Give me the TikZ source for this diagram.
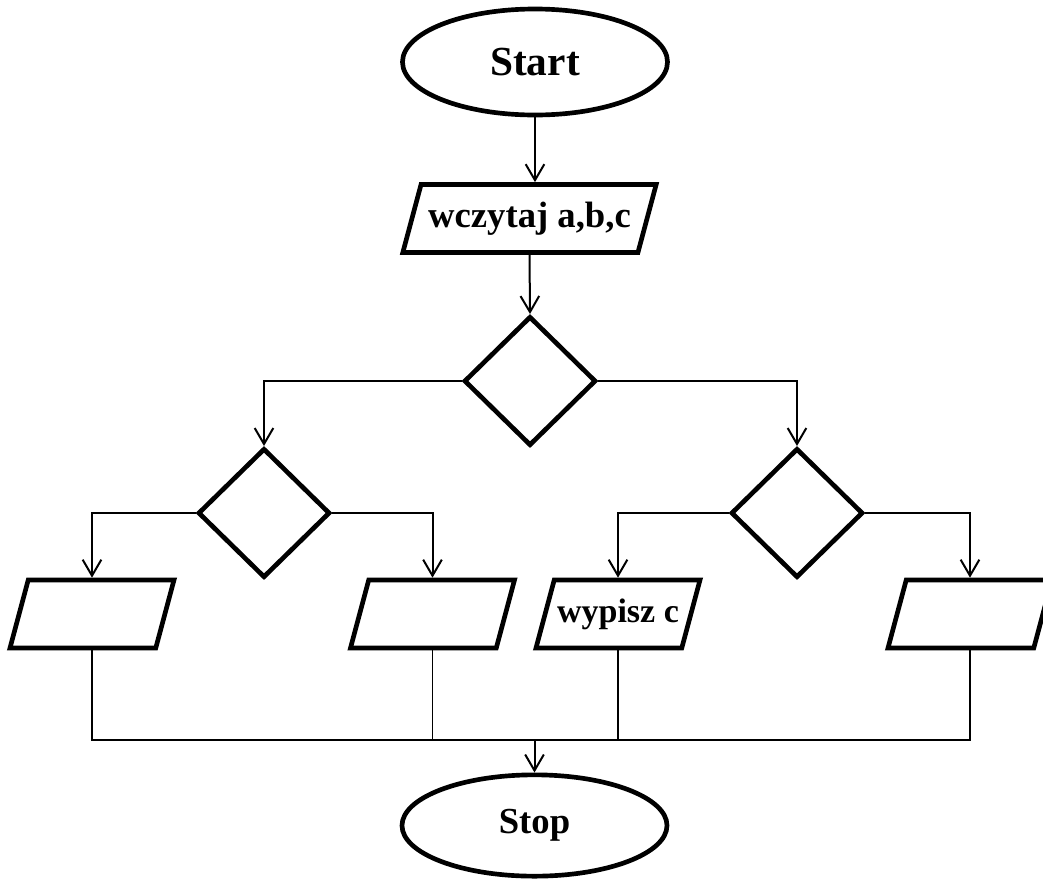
\documentclass[tikz,border=0pt]{standalone}
\usepackage{fontspec}
\setmainfont{Liberation Serif}
\usetikzlibrary{arrows.meta}
\usetikzlibrary{shapes.geometric}

\tikzset{
  term/.style={ellipse, draw, line width=3.5pt, minimum width=198.75pt, inner sep=0pt,
    font=\bfseries\fontsize{27.5}{32}\selectfont},
  io/.style={trapezium, trapezium left angle=75, trapezium right angle=105,
    trapezium stretches body, draw, line width=3.5pt, minimum width=123pt,
    text height=20pt, text depth=7pt, inner xsep=2pt, inner ysep=12pt,
    font=\bfseries\fontsize{25.5}{30}\selectfont},
  cond/.style={diamond, draw, line width=3.5pt, minimum width=99pt, minimum height=97pt, inner sep=0pt},
  link/.style={line width=1.2pt},
  flow/.style={line width=1.5pt, -{Straight Barb[length=12pt,width=14pt]}}
}

\begin{document}
\begin{tikzpicture} [x=0.75pt, y=-0.75pt]

\useasboundingbox (0,0) rectangle (1043,879);

\node[term, minimum height=79.5pt, font=\bfseries\fontsize{31}{36}\selectfont] (start) at (535,62) {Start};
\node[io, minimum width=190pt, font=\bfseries\fontsize{27.5}{32}\selectfont] (read) at (529.5,218.5) {wczytaj a,b,c};
\node[cond] (d0) at (530,381) {};
\node[cond] (d1) at (264,513) {};
\node[cond] (d2) at (797,513) {};

\foreach \n/\x/\t in {p1/92/, p2/432.5/, p3/618/wypisz c, p4/970/} {
 \node[io] (\n) at (\x,614) {\t};
};

\node[term, minimum height=76pt] (stop) at (534.5,825.5) {Stop};
\coordinate (join) at (534.5,740);

\draw[flow] (start.south) -- (start.south |- read.north);
\draw[flow] (read.south) -- (d0.north);
\draw[flow] (d0.west) -| (d1.north);
\draw[flow] (d0.east) -| (d2.north);
\draw[flow] (d1.west) -| (p1.north);
\draw[flow] (d1.east) -| (p2.north);
\draw[flow] (d2.west) -| (p3.north);
\draw[flow] (d2.east) -| (p4.north);

\draw[link] (p1.south) |- (join) -| (p4.south);
\foreach \n in {p2,p3} {
 \draw[link] (\n.south) -- (\n.south |- join);
};
\draw[flow] (join) -- (stop.north);

\end{tikzpicture}
\end{document}
